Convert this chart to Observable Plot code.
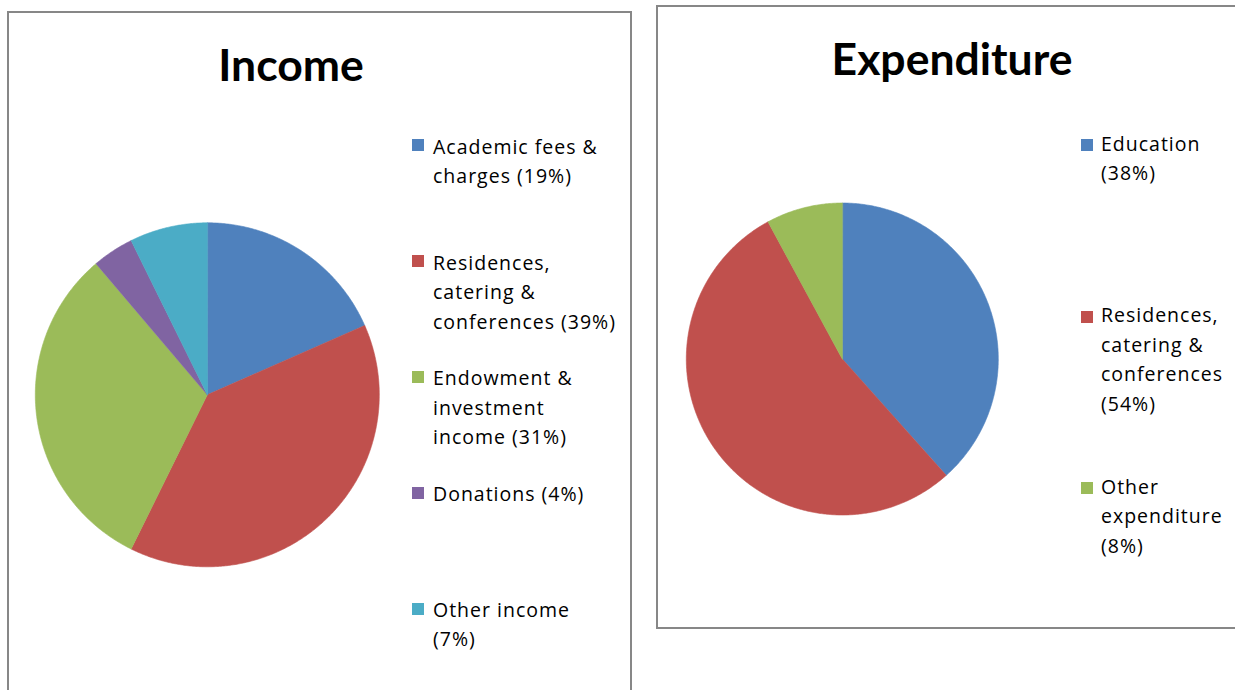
<!DOCTYPE html>
<html>
<head>
<meta charset="utf-8">
<script src="https://cdn.jsdelivr.net/npm/d3@7"></script>
<script src="https://cdn.jsdelivr.net/npm/@observablehq/plot@0.6"></script>
<style>
  html, body { margin: 0; padding: 0; background: #fff; }
  body { width: 1235px; height: 690px; overflow: hidden; position: relative; font-family: Lato, "Open Sans", sans-serif; color: #000; }
  .panel { position: absolute; border: 2px solid #878787; box-sizing: border-box; background: #fff; }
  .title { position: absolute; font-family: Lato, sans-serif; font-weight: 700; font-size: 44.5px; line-height: 1.2; white-space: nowrap; transform: translateX(-50%); }
  .swatch { position: absolute; width: 12px; height: 12px; }
  .ltext { position: absolute; font-family: "Open Sans", sans-serif; font-size: 19.5px; line-height: 29.5px; letter-spacing: 1px; white-space: nowrap; }
  .chart { position: absolute; }
</style>
</head>
<body>
<script>
// ---- Data (slice sizes; legend labels as printed) ----
const incomeCategories = ["Academic fees & charges", "Residences, catering & conferences", "Endowment & investment income", "Donations", "Other income"];
const incomeValues = [18.4, 38.9, 31.5, 3.9, 7.3];
const incomeLegendLines = [["Academic fees &", "charges (19%)"], ["Residences,", "catering &", "conferences (39%)"], ["Endowment &", "investment", "income (31%)"], ["Donations (4%)"], ["Other income", "(7%)"]];
const incomeColors = ["#4F81BD", "#C0504D", "#9BBB59", "#8064A2", "#4BACC6"];

const expenditureCategories = ["Education", "Residences, catering & conferences", "Other expenditure"];
const expenditureValues = [38.4, 53.7, 7.9];
const expenditureLegendLines = [["Education", "(38%)"], ["Residences,", "catering &", "conferences", "(54%)"], ["Other", "expenditure", "(8%)"]];
const expenditureColors = ["#4F81BD", "#C0504D", "#9BBB59"];

// ---- Helpers ----
function piePoints(cats, vals) {
  const total = d3.sum(vals);
  let a = 0;
  const pts = [];
  cats.forEach((c, i) => {
    const a0 = a, a1 = a + vals[i] / total * 2 * Math.PI;
    pts.push({cat: c, x: 0, y: 0});
    const n = Math.max(2, Math.ceil((a1 - a0) / (Math.PI / 360)));
    for (let k = 0; k <= n; k++) {
      const t = a0 + (a1 - a0) * k / n;
      pts.push({cat: c, x: Math.sin(t), y: Math.cos(t)});
    }
    a = a1;
  });
  return pts;
}

function addDiv(cls, style, text) {
  const d = document.createElement("div");
  d.className = cls;
  Object.assign(d.style, style);
  if (text != null) d.textContent = text;
  document.body.appendChild(d);
  return d;
}

function drawPanel(cfg) {
  addDiv("panel", cfg.box);
  const svg = Plot.plot({
    width: cfg.w, height: cfg.h, margin: 0,
    style: {background: "transparent", overflow: "visible"},
    x: {domain: [-1, 1], range: [cfg.cx - cfg.r, cfg.cx + cfg.r], axis: null},
    y: {domain: [-1, 1], range: [cfg.cy + cfg.r, cfg.cy - cfg.r], axis: null},
    color: {domain: cfg.cats, range: cfg.colors},
    marks: [
      Plot.line(piePoints(cfg.cats, cfg.vals), {x: "x", y: "y", z: "cat", fill: "cat", stroke: "cat", strokeWidth: 0.6, curve: "linear-closed"})
    ]
  });
  const holder = addDiv("chart", {left: cfg.left + "px", top: cfg.top + "px", width: cfg.w + "px", height: cfg.h + "px"});
  holder.appendChild(svg);

  addDiv("title", {left: cfg.titleX + "px", top: (cfg.titleBase - 0.987 * 44.5) + "px"}, cfg.title);

  cfg.lines.forEach((lines, i) => {
    const base = cfg.legBase0 + i * cfg.legStep;
    addDiv("swatch", {left: cfg.swX + "px", top: (base - cfg.swOff) + "px", background: cfg.colors[i]});
    const t = addDiv("ltext", {left: cfg.txtX + "px", top: (base - 22.3) + "px"});
    lines.forEach((ln) => {
      const s = document.createElement("div");
      s.textContent = ln;
      t.appendChild(s);
    });
  });
}

drawPanel({
  box: {left: "7px", top: "11px", width: "625px", height: "700px"},
  left: 0, top: 0, w: 640, h: 690,
  cx: 206.8, cy: 394.3, r: 172,
  cats: incomeCategories, vals: incomeValues, colors: incomeColors,
  title: "Income", titleX: 291, titleBase: 81,
  lines: incomeLegendLines, legBase0: 154, legStep: 115.8,
  swX: 412, swOff: 14.7, txtX: 433
});

drawPanel({
  box: {left: "656px", top: "5px", width: "600px", height: "624px"},
  left: 640, top: 0, w: 595, h: 690,
  cx: 841.8 - 640, cy: 358.5, r: 156,
  cats: expenditureCategories, vals: expenditureValues, colors: expenditureColors,
  title: "Expenditure", titleX: 952, titleBase: 75,
  lines: expenditureLegendLines, legBase0: 151, legStep: 171.5,
  swX: 1081, swOff: 12, txtX: 1101
});
</script>
</body>
</html>
